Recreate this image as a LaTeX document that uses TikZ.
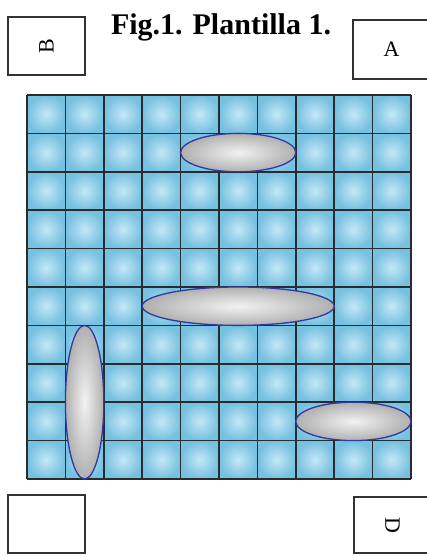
\documentclass[tikz,border=0pt]{standalone}
\usepackage{fontspec}
\setmainfont{Liberation Serif}
\usepackage{xcolor}
\usetikzlibrary{positioning}
\definecolor{tilelight}{RGB}{196,232,246}
\definecolor{tiledark}{RGB}{118,192,224}
\definecolor{gridline}{RGB}{40,44,48}
\definecolor{rimblue}{RGB}{48,58,160}
\definecolor{boxline}{RGB}{50,50,50}

\begin{document}
\begin{tikzpicture}[x=1pt, y=1pt, labelbox/.style={draw=boxline, line width=1.1pt, minimum width=77pt, minimum height=58pt, inner sep=0pt, font=\fontsize{22}{24}\selectfont}, tile/.style={inner color=tilelight, outer color=tiledark}, spindle/.style={inner color=gray!10, outer color=gray!62}]
\useasboundingbox (0,0) rectangle (427,556);
\node[font=\fontsize{30}{34}\selectfont\bfseries] (title) at (221,529) {Fig.1. Plantilla 1.};
\node[labelbox] (boxB) at (46.5,510) {\rotatebox{90}{B}};
\node[labelbox, minimum height=59pt] (boxA) at (391.5,506.5) {A};
\node[labelbox] (boxC) at (46.5,32) {};
\node[labelbox, minimum height=56pt] (boxD) at (392.5,31) {\rotatebox{-90}{D}};
\begin{scope}[shift={(27,77)}, x=38.4pt, y=38.4pt]
\foreach \i in {0,...,9} {
  \foreach \j in {0,...,9} {
    \shade[tile] (\i,\j) rectangle ++(1,1);
  }
}
\foreach \k in {0,...,10} {
  \draw[gridline, line width=1.6pt] (\k,0) -- (\k,10);
  \draw[gridline, line width=1.6pt] (0,\k) -- (10,\k);
}
\shade[spindle] (5.5,8.5) ellipse (1.5 and 0.5);
\draw[rimblue, line width=1.3pt] (5.5,8.5) ellipse (1.5 and 0.5);
\shade[spindle] (5.5,4.5) ellipse (2.5 and 0.5);
\draw[rimblue, line width=1.3pt] (5.5,4.5) ellipse (2.5 and 0.5);
\shade[spindle] (1.5,2) ellipse (0.5 and 2);
\draw[rimblue, line width=1.3pt] (1.5,2) ellipse (0.5 and 2);
\shade[spindle] (8.5,1.5) ellipse (1.5 and 0.5);
\draw[rimblue, line width=1.3pt] (8.5,1.5) ellipse (1.5 and 0.5);
\end{scope}
\end{tikzpicture}
\end{document}
